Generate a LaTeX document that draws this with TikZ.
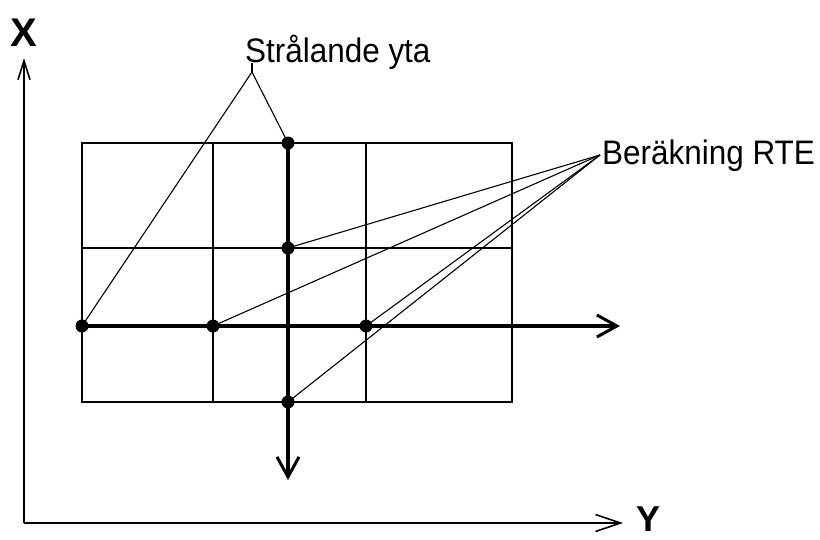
\documentclass[tikz,border=0pt]{standalone}
\usepackage{fontspec}
\setmainfont{Liberation Sans}
\usetikzlibrary{arrows.meta}
\begin{document}
\begin{tikzpicture}[x=1pt,y=-1pt,
  gridline/.style={line width=2pt},
  thickarrow/.style={line width=3.5pt,-{Straight Barb[length=20pt,width=22pt,line width=3pt]}},
  thickline/.style={line width=3.5pt},
  axisline/.style={line width=1.6pt},
  leader/.style={line width=1.1pt},
  dot/.style={circle,fill=black,inner sep=0pt,minimum size=13pt},
  lbl/.style={inner sep=0pt,font=\fontsize{34}{40}\selectfont},
  axlbl/.style={inner sep=0pt,font=\fontsize{40}{46}\selectfont\bfseries}]
\useasboundingbox (0,0) rectangle (820,539);

% axes
\coordinate (O) at (24,523);
\coordinate (xt) at (24,58);
\coordinate (yt) at (623,523);
\draw[axisline,-{Straight Barb[length=19pt,width=12pt]}] (O) -- (xt);
\draw[axisline,-{Straight Barb[length=25pt,width=17pt]}] (O) -- (yt);
\node[axlbl,anchor=base west] (X) at (10,46) {X};
\node[axlbl,anchor=base west,font=\fontsize{36}{42}\selectfont\bfseries] (Y) at (636,531) {Y};

% grid
\draw[gridline] (82,143) rectangle (512,402);
\draw[gridline] (213,143) -- (213,402);
\draw[gridline] (366,143) -- (366,402);
\draw[gridline] (82,248) -- (512,248);

% grid points
\coordinate (p1) at (82,326);
\coordinate (p2) at (213,326);
\coordinate (p3) at (288,248);
\coordinate (p4) at (366,326);
\coordinate (p5) at (288,402);
\coordinate (p6) at (288,143);
\coordinate (htip) at (620,326);
\coordinate (vtip) at (288,480);

\draw[thickline] (p6) -- (p5);
\draw[thickarrow] (p5) -- (vtip);
\draw[thickarrow] (p1) -- (htip);

% labels
\node[lbl,anchor=base west] (stral) at (245,62) {\scalebox{0.925}[1]{Strålande yta}};
\node[lbl,anchor=base west] (berak) at (602,164) {\scalebox{0.925}[1]{Beräkning RTE}};
\coordinate (sa) at (252,72);
\coordinate (st) at (252,63);
\coordinate (ba) at (600,155);

% leaders
\draw[leader] (st) -- (sa);
\draw[leader] (sa) -- (p1);
\draw[leader] (sa) -- (p6);
\draw[leader] (ba) -- (p3);
\draw[leader] (ba) -- (p2);
\draw[leader] (ba) -- (p4);
\draw[leader] (ba) -- (p5);

% dots
\foreach \p in {p1,p2,p3,p4,p5,p6}
  \node[dot] (d\p) at (\p) {};
\end{tikzpicture}
\end{document}
